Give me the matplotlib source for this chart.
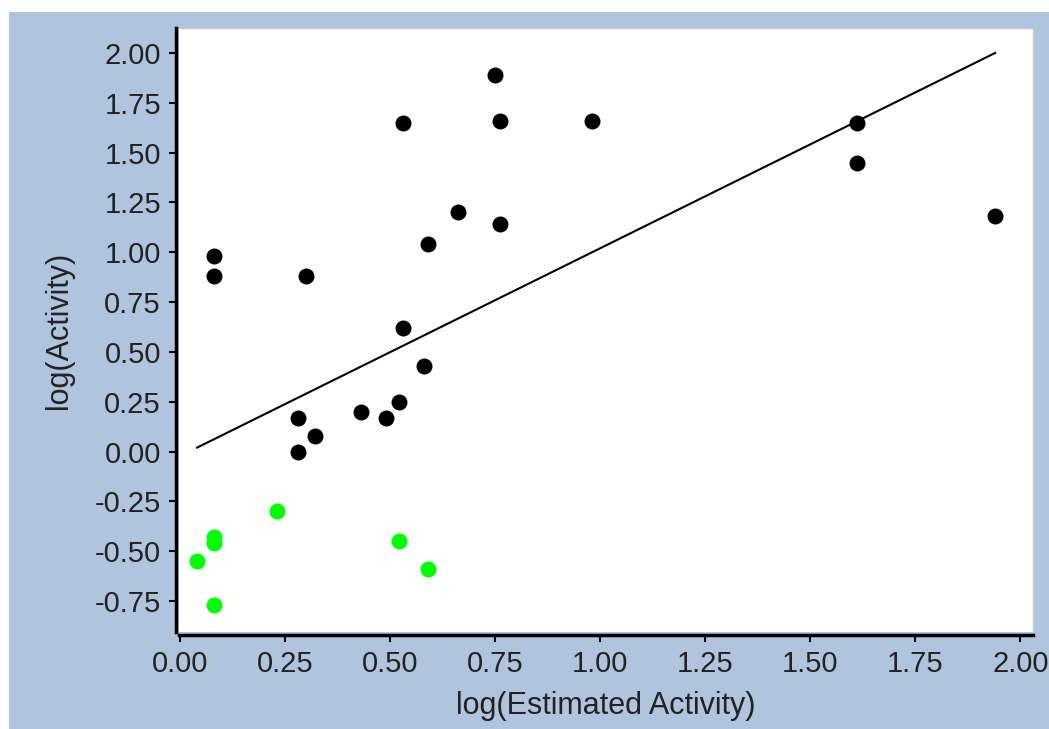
import matplotlib
matplotlib.use("Agg")
import matplotlib.pyplot as plt
from matplotlib.patches import Rectangle

# observed points (log scale)
black_x = [0.08, 0.08, 0.30, 0.28, 0.28, 0.32, 0.43, 0.49, 0.52, 0.53, 0.58,
           0.59, 0.66, 0.53, 0.75, 0.76, 0.76, 0.98, 1.61, 1.61, 1.94]
black_y = [0.98, 0.88, 0.88, 0.17, 0.00, 0.08, 0.20, 0.17, 0.25, 0.62, 0.43,
           1.04, 1.20, 1.65, 1.89, 1.66, 1.14, 1.66, 1.65, 1.45, 1.18]
green_x = [0.23, 0.08, 0.08, 0.04, 0.08, 0.52, 0.59]
green_y = [-0.30, -0.43, -0.46, -0.55, -0.77, -0.45, -0.59]
fit_x = [0.04, 1.94]
fit_y = [0.02, 2.00]

xticks = [0.0, 0.25, 0.5, 0.75, 1.0, 1.25, 1.5, 1.75, 2.0]
yticks = [-0.75, -0.5, -0.25, 0.0, 0.25, 0.5, 0.75, 1.0, 1.25, 1.5, 1.75, 2.0]

plt.rcParams['font.family'] = ['Liberation Sans', 'DejaVu Sans']

W, H = 1049, 729
fig = plt.figure(figsize=(W / 100, H / 100), dpi=100, facecolor='white')
bg = Rectangle((9 / W, 0), 1 - 9 / W, 1 - 12 / H, transform=fig.transFigure,
               facecolor='#b0c4de', edgecolor='none', zorder=-10)
fig.add_artist(bg)

ax = fig.add_axes([179 / W, (H - 632) / H, (1033 - 179) / W, (632 - 28) / H])
ax.set_zorder(1)
ax.set_facecolor('white')

ax.plot(fit_x, fit_y, color='black', lw=1.5, zorder=2)
ax.plot(black_x, black_y, 'o', color='black', ms=11.5, mew=0, zorder=3)
ax.plot(green_x, green_y, 'o', color='#00ff00', ms=11.5, mew=0, zorder=3)

ax.set_xlim(-0.003, 2.03)
ax.set_ylim(-0.905, 2.125)
ax.set_xticks(xticks)
ax.set_yticks(yticks)
ax.set_xticklabels(['%.2f' % v for v in xticks])
ax.set_yticklabels(['%.2f' % v for v in yticks])

for s in ['top', 'right']:
    ax.spines[s].set_color('#c8c8c8')
    ax.spines[s].set_linewidth(1)
for s in ['left', 'bottom']:
    ax.spines[s].set_color('black')
    ax.spines[s].set_linewidth(2.5)
    ax.spines[s].set_position(('outward', 2))

ax.tick_params(direction='out', length=5, width=1.5, color='black',
               labelsize=21, labelcolor='#222222', pad=6)

ax.set_xlabel('log(Estimated Activity)', fontsize=22, color='#222222', labelpad=9)
ax.set_ylabel('log(Activity)', fontsize=22, color='#222222', labelpad=15)

fig.savefig('out.png', dpi=100, facecolor=fig.get_facecolor())
